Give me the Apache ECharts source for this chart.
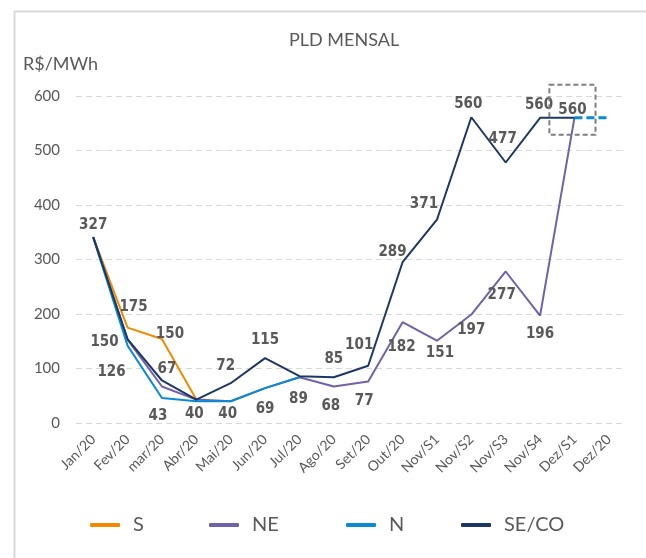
<!DOCTYPE html>
<html>
<head>
<meta charset="utf-8">
<title>PLD MENSAL</title>
<script src="https://cdn.jsdelivr.net/npm/echarts@6/dist/echarts.min.js"></script>
<style>
    html, body { margin: 0; padding: 0; background: #fff; }
    #chart { width: 646px; height: 558px; }
</style>
</head>
<body>
<div id="chart"></div>
<script>
// ============================================
// 数据
// ============================================

const categories = ['Jan/20', 'Fev/20', 'mar/20', 'Abr/20', 'Mai/20', 'Jun/20', 'Jul/20', 'Ago/20',
    'Set/20', 'Out/20', 'Nov/S1', 'Nov/S2', 'Nov/S3', 'Nov/S4', 'Dez/S1', 'Dez/20'];

// 线条位置
const sValues = [341, 175, 154, 43];
const neValues = [341, 153, 67, 43, 40, 64, 84, 67, 76, 185, 151, 199, 278, 197, 560, null];
const nValues = [341, 142, 46, 40, 40, 64, 84];
const nProjValues = [null, null, null, null, null, null, null, null, null, null, null, null, null, null, 560, 560];
const secoValues = [341, 154, 78, 43, 73, 119, 86, 84, 105, 295, 373, 561, 478, 560, 560, null];

// 数据标签文字
const sLabels = [null, '175', '150', null];
const neLabels = [null, null, '67', null, null, null, null, '68', '77', '182', '151', '197', '277', '196', null, null];
const nLabels = [null, '126', '43', '40', '40', '69', '89'];
const secoLabels = ['327', '150', null, null, '72', '115', null, '85', '101', '289', '371', '560', '477', '560', '560', null];

const yTicks = [0, 100, 200, 300, 400, 500, 600];

// ============================================
// 标签偏移 (布局)
// ============================================

const sNudge = [null, [6, -21], [8, -5], null];
const neNudge = [null, null, [5, -17], null, null, null, null, [-3, 20], [-4, 20], [-1, 25], [3, 12], [0, 16], [-4, 24], [0, 18], null, null];
const nNudge = [null, [-16, 26], [-4, 18], [-2, 13], [-3, 13], [0, 21], [-1, 22]];
const secoNudge = [[0, -12], [-23, 3], null, null, [-5, -17], [0, -18], null, [0, -18], [-9, -21], [-10, -10],
    [-13, -16], [-3, -13], [-3, -23], [-1, -13], [-2, -8], null];

const COLORS = { S: '#F28A00', NE: '#7161A9', N: '#0A8AD2', SECO: '#1C3766' };
const TEXT = '#595959';
const LABEL_FONT = "'Liberation Sans Narrow', 'DejaVu Sans Condensed', sans-serif";

/**
 * 生成带标签的数据点
 * @param {Array} values - 数值
 * @param {Array} labels - 标签文字
 * @param {Array} nudge - 标签偏移
 * @param {number} boxIndex - 带虚线框的点
 */
function buildPoints(values, labels, nudge, boxIndex = -1) {
    return values.map((v, i) => {
        const text = labels[i];
        if (text == null) return { value: v, label: { show: false } };
        const label = {
            show: true,
            position: 'inside',
            formatter: text,
            offset: nudge[i] || [0, 0],
            color: TEXT,
            fontFamily: LABEL_FONT,
            fontWeight: 'bold',
            fontSize: 15,
            lineHeight: 15
        };
        if (i === boxIndex) {
            Object.assign(label, {
                padding: [12, 9, 23, 9],
                borderColor: '#7f7f7f',
                borderWidth: 2,
                borderType: [5, 3]
            });
        }
        return { value: v, label };
    });
}

function lineSeries(name, color, data, extra = {}) {
    return Object.assign({
        name,
        type: 'line',
        data,
        color,
        symbol: 'circle',
        symbolSize: 0,
        showSymbol: true,
        connectNulls: false,
        lineStyle: { color, width: 2 },
        itemStyle: { color },
        emphasis: { disabled: true }
    }, extra);
}

function legendAt(name, left) {
    return {
        data: [name],
        left,
        top: 515,
        padding: 0,
        icon: 'roundRect',
        itemWidth: 30,
        itemHeight: 4,
        textStyle: { color: TEXT, fontFamily: 'Lato', fontSize: 20, padding: [0, 0, 0, 8] }
    };
}

// ============================================
// 图表
// ============================================

const chart = echarts.init(document.getElementById('chart'), null, { renderer: 'canvas' });

chart.setOption({
    animation: false,
    backgroundColor: '#fff',
    graphic: [{
        type: 'rect',
        left: 12,
        top: 9,
        shape: { width: 700, height: 600 },
        style: { fill: 'none', stroke: '#d9d9d9', lineWidth: 2 },
        silent: true
    }],
    title: [
        {
            text: 'PLD MENSAL',
            left: 289,
            top: 31,
            padding: 0,
            textStyle: { color: TEXT, fontFamily: 'Lato', fontSize: 18, fontWeight: 'normal' }
        },
        {
            text: 'R$/MWh',
            left: 23,
            top: 55,
            padding: 0,
            textStyle: { color: TEXT, fontFamily: 'Lato', fontSize: 18, fontWeight: 'normal' }
        }
    ],
    legend: [
        legendAt('S', 90),
        legendAt('NE', 209),
        legendAt('N', 346),
        legendAt('SE/CO', 461)
    ],
    grid: { left: 76, right: 20, top: 96, bottom: 135, containLabel: false },
    xAxis: {
        type: 'category',
        data: categories,
        boundaryGap: true,
        axisLine: { show: false },
        axisTick: { show: false },
        axisLabel: {
            rotate: 45,
            margin: 14,
            interval: 0,
            color: TEXT,
            fontFamily: 'Lato',
            fontSize: 14
        }
    },
    yAxis: {
        type: 'value',
        min: yTicks[0],
        max: yTicks[yTicks.length - 1],
        interval: 100,
        axisLine: { show: false },
        axisTick: { show: false },
        axisLabel: { margin: 16, color: TEXT, fontFamily: 'Lato', fontSize: 15 },
        splitLine: { lineStyle: { color: '#d9d9d9', type: [6, 4], width: 1 } }
    },
    series: [
        lineSeries('S', COLORS.S, buildPoints(sValues, sLabels, sNudge)),
        lineSeries('NE', COLORS.NE, buildPoints(neValues, neLabels, neNudge)),
        lineSeries('N', COLORS.N, buildPoints(nValues, nLabels, nNudge)),
        lineSeries('N (proj.)', COLORS.N, nProjValues, {
            symbol: 'none',
            lineStyle: { color: COLORS.N, width: 3, type: [8, 4] }
        }),
        lineSeries('SE/CO', COLORS.SECO, buildPoints(secoValues, secoLabels, secoNudge, 14))
    ]
});
</script>
</body>
</html>
